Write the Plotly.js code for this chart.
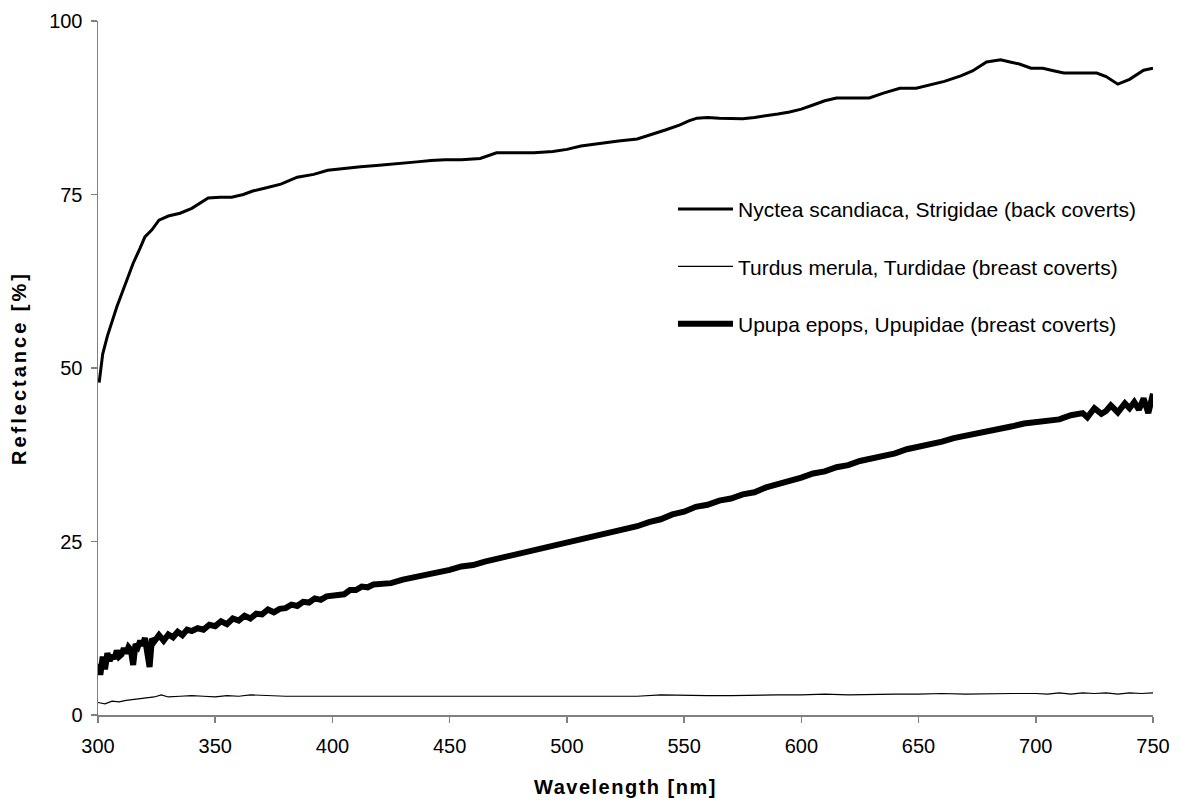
<!DOCTYPE html>
<html>
<head>
<meta charset="utf-8">
<script src="https://cdn.plot.ly/plotly-3.0.1.min.js"></script>
<style>
html,body{margin:0;padding:0;background:#fff;}
#chart{width:1182px;height:801px;}
#chart .xtitle{letter-spacing:1.5px;}
#chart .ytitle{letter-spacing:3px;}
</style>
</head>
<body>
<div id="chart"></div>
<script>
// Nyctea scandiaca (back coverts)
const nycteaX = [300.5,302,304,306,308,310,312,315,318,320,323,326,330,335,340,347,352,357,362,366,371,378,385,392,398,405,412,420,428,436,442,448,455,463,470,478,486,494,500,506,514,522,530,536,542,548,552,555.5,560,565,570,575,580,585,590,595,600,605,610,615,621,629,635,642,649,655,661,668,673,679,685,689,693,698,703,708,712,718,726,730,735,740,746,750];
const nycteaY = [47.9,52.0,54.6,56.8,58.8,60.6,62.3,65.1,67.3,68.9,69.9,71.3,71.9,72.3,73.0,74.5,74.6,74.6,75.0,75.5,75.9,76.5,77.5,77.9,78.5,78.8,79.0,79.2,79.5,79.7,79.9,80.0,80.0,80.2,81.0,81.0,81.0,81.2,81.5,82.0,82.4,82.7,83.0,83.6,84.3,85.0,85.6,86.0,86.1,86.0,85.9,85.9,86.1,86.3,86.6,86.9,87.3,87.9,88.5,88.9,88.9,88.9,89.6,90.3,90.3,90.8,91.3,92.1,92.8,94.1,94.4,94.1,93.8,93.2,93.2,92.8,92.5,92.5,92.5,92.0,90.9,91.6,92.9,93.2];

// Turdus merula (breast coverts)
const turdusX = [300,303,306,309,312,315,318,321,324,327,330,335,340,345,350,355,360,365,370,375,380,390,400,410,420,430,440,450,460,470,480,490,500,510,520,530,540,550,560,570,580,590,600,610,620,630,640,650,660,670,680,690,700,705,710,715,720,725,730,735,740,745,750];
const turdusY = [1.8,1.6,2.0,1.9,2.1,2.2,2.3,2.4,2.6,2.9,2.6,2.7,2.8,2.7,2.6,2.8,2.7,2.9,2.8,2.7,2.7,2.7,2.7,2.7,2.7,2.7,2.7,2.8,2.7,2.7,2.8,2.7,2.7,2.8,2.8,2.7,2.9,2.8,2.8,2.8,2.9,2.9,2.9,3.0,2.9,3.0,3.0,3.0,3.1,3.0,3.1,3.1,3.1,3.0,3.2,3.0,3.2,3.1,3.2,3.0,3.2,3.1,3.2];

// Upupa epops (breast coverts)
const upupaX = [300,301,302,303,304,305,306,307,308,309,310,311,312,313,314,315,316,317,318,319,320,321,322,323,324,326,328,330,332,334,336,338,340,342.5,345,347.5,350,352.5,355,357.5,360,362.5,365,367.5,370,372.5,375,377.5,380,382.5,385,387.5,390,392.5,395,397.5,400,402.5,405,407.5,410,412.5,415,417.5,420,425,430,435,440,445,450,455,460,465,470,475,480,485,490,495,500,505,510,515,520,525,530,535,540,545,550,555,560,565,570,575,580,585,590,595,600,605,610,615,620,625,630,635,640,645,650,655,660,665,670,675,680,685,690,695,700,705,710,715,720,722,725,728,730,732,735,738,740,742,744,746,748,750];
const upupaY = [7.4,5.8,8.4,6.6,8.9,7.8,8.6,8.1,9.3,8.4,8.7,9.6,8.9,9.8,9.4,7.2,10.2,9.8,10.7,10.0,11.1,8.8,6.9,11.0,10.6,11.5,10.7,11.6,11.2,12.0,11.5,12.3,12.1,12.5,12.3,13.0,12.8,13.5,13.1,13.9,13.6,14.3,13.9,14.6,14.5,15.2,14.8,15.3,15.4,15.9,15.7,16.3,16.2,16.8,16.6,17.1,17.2,17.5,17.4,18.0,18.0,18.5,18.4,18.8,18.8,19.0,19.5,19.8,20.3,20.6,20.9,21.4,21.6,22.1,22.5,22.8,23.2,23.5,24.0,24.3,24.7,25.2,25.5,26.0,26.3,26.9,27.2,27.8,28.2,28.9,29.3,30.0,30.3,30.9,31.2,31.8,32.1,32.8,33.2,33.8,34.2,34.8,35.1,35.7,36.0,36.6,36.9,37.4,37.7,38.3,38.6,39.1,39.4,39.9,40.2,40.7,40.9,41.3,41.6,42.0,42.2,42.4,42.6,43.2,43.5,42.9,44.2,43.4,43.8,44.6,43.6,44.9,44.2,45.1,44.0,45.6,43.5,46.3,44.2,45.3];

const traces = [
  {x: nycteaX, y: nycteaY, name: 'Nyctea scandiaca, Strigidae (back coverts)', legendgroup: 'a',
   mode: 'lines', line: {color: '#000', width: 3}},
  {x: turdusX, y: turdusY, name: 'Turdus merula, Turdidae (breast coverts)', legendgroup: 'b',
   mode: 'lines', line: {color: '#000', width: 1.2}},
  {x: upupaX, y: upupaY, name: 'Upupa epops, Upupidae (breast coverts)', legendgroup: 'c',
   mode: 'lines', line: {color: '#000', width: 6}}
];

const layout = {
  width: 1182, height: 801,
  margin: {l: 98, r: 29, t: 21, b: 86},
  paper_bgcolor: '#fff', plot_bgcolor: '#fff',
  font: {family: 'Liberation Sans, Arial, sans-serif', color: '#000', size: 20},
  showlegend: true,
  legend: {x: 0.545, y: 0.758, xanchor: 'left', yanchor: 'top', bgcolor: 'rgba(0,0,0,0)',
           font: {size: 21, family: 'Liberation Sans, Arial, sans-serif'}, tracegroupgap: 27, itemwidth: 55},
  xaxis: {
    range: [300, 750], tickvals: [300,350,400,450,500,550,600,650,700,750],
    showgrid: false, zeroline: false, showline: true, linecolor: '#808080', linewidth: 1.5,
    ticks: 'outside', ticklen: 6, tickcolor: '#808080', tickwidth: 1.5, ticklabelstandoff: 6,
    tickfont: {size: 20}, title: {text: '<b>Wavelength [nm]</b>', font: {size: 20}, standoff: 24}
  },
  yaxis: {
    range: [0, 100], tickvals: [0,25,50,75,100],
    showgrid: false, zeroline: false, showline: true, linecolor: '#808080', linewidth: 1.5,
    ticks: 'outside', ticklen: 6, tickcolor: '#808080', tickwidth: 1.5, ticklabelstandoff: 4,
    tickfont: {size: 20}, title: {text: '<b>Reflectance [%]</b>', font: {size: 20}, standoff: 17}
  }
};

Plotly.newPlot('chart', traces, layout, {displayModeBar: false, staticPlot: true});
</script>
</body>
</html>
